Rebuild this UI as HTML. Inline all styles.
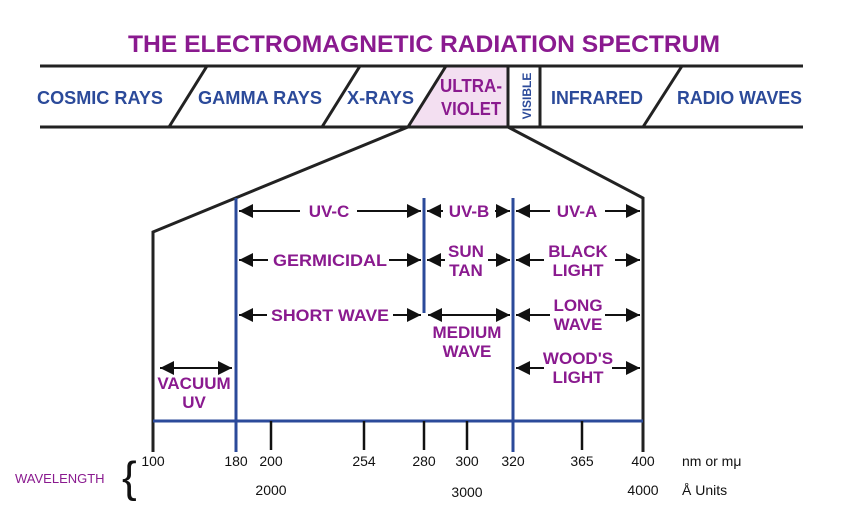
<!DOCTYPE html><html><head><style>body{margin:0;background:#fff}svg{display:block}</style></head><body>
<svg width="854" height="517" xmlns="http://www.w3.org/2000/svg" font-family="Liberation Sans, sans-serif" font-weight="bold">
<defs><marker id="a" viewBox="0 0 10 10" refX="10" refY="5" markerWidth="7" markerHeight="7" orient="auto-start-reverse"><path d="M0,0L10,5L0,10z" fill="#111"/></marker></defs>
<text x="128" y="52" textLength="592" lengthAdjust="spacingAndGlyphs" font-size="24" fill="#8a1a8f">THE ELECTROMAGNETIC RADIATION SPECTRUM</text>
<polygon points="446,66 508,66 508,127 408,127" fill="#f3dff1"/>
<g stroke="#222" stroke-width="3" fill="none">
<line x1="40" y1="66" x2="803" y2="66"/><line x1="40" y1="127" x2="803" y2="127"/>
<line x1="207" y1="66" x2="169" y2="127"/><line x1="360" y1="66" x2="322" y2="127"/>
<line x1="446" y1="66" x2="408" y2="127"/><line x1="508" y1="66" x2="508" y2="127"/>
<line x1="540" y1="66" x2="540" y2="127"/><line x1="682" y1="66" x2="643" y2="127"/>
<polyline points="408,127 153,232 153,452"/><polyline points="508,127 643,198 643,452"/>
</g>
<g font-size="18" fill="#2b4a9a">
<text x="37" y="104" textLength="126" lengthAdjust="spacingAndGlyphs">COSMIC RAYS</text>
<text x="198" y="104" textLength="124" lengthAdjust="spacingAndGlyphs">GAMMA RAYS</text>
<text x="347" y="104" textLength="67" lengthAdjust="spacingAndGlyphs">X-RAYS</text>
<text x="551" y="104" textLength="92" lengthAdjust="spacingAndGlyphs">INFRARED</text>
<text x="677" y="104" textLength="125" lengthAdjust="spacingAndGlyphs">RADIO WAVES</text>
<text transform="translate(531,96) rotate(-90)" text-anchor="middle" font-size="12">VISIBLE</text>
</g>
<g font-size="18" fill="#8a1a8f">
<text x="440" y="92" textLength="62" lengthAdjust="spacingAndGlyphs">ULTRA-</text>
<text x="441" y="115" textLength="60" lengthAdjust="spacingAndGlyphs">VIOLET</text></g>
<g stroke="#2b4a9a" stroke-width="3">
<line x1="236" y1="198" x2="236" y2="452"/><line x1="424" y1="198" x2="424" y2="313"/>
<line x1="513" y1="198" x2="513" y2="452"/><line x1="153" y1="421" x2="643" y2="421"/></g>
<g stroke="#111" stroke-width="2.5">
<line x1="271" y1="421" x2="271" y2="450"/><line x1="364" y1="421" x2="364" y2="450"/>
<line x1="424" y1="421" x2="424" y2="450"/><line x1="467" y1="421" x2="467" y2="450"/>
<line x1="582" y1="421" x2="582" y2="450"/></g>
<g stroke="#111" stroke-width="2" marker-end="url(#a)" marker-start="url(#a)">
<line x1="160" y1="368" x2="232" y2="368"/><line x1="428" y1="315" x2="510" y2="315"/></g>
<g stroke="#111" stroke-width="2" marker-end="url(#a)">
<line x1="300" y1="211" x2="239" y2="211"/><line x1="357" y1="211" x2="421" y2="211"/>
<line x1="443" y1="211" x2="427" y2="211"/><line x1="495" y1="211" x2="510" y2="211"/>
<line x1="550" y1="211" x2="516" y2="211"/><line x1="605" y1="211" x2="640" y2="211"/>
<line x1="268" y1="260" x2="239" y2="260"/><line x1="389" y1="260" x2="421" y2="260"/>
<line x1="445" y1="260" x2="427" y2="260"/><line x1="488" y1="260" x2="510" y2="260"/>
<line x1="544" y1="260" x2="516" y2="260"/><line x1="615" y1="260" x2="640" y2="260"/>
<line x1="267" y1="315" x2="239" y2="315"/><line x1="393" y1="315" x2="421" y2="315"/>
<line x1="550" y1="315" x2="516" y2="315"/><line x1="605" y1="315" x2="640" y2="315"/>
<line x1="544" y1="368" x2="516" y2="368"/><line x1="612" y1="368" x2="640" y2="368"/>
</g>
<g font-size="17" fill="#8a1a8f" text-anchor="middle">
<text x="329" y="217">UV-C</text><text x="469" y="217">UV-B</text><text x="577" y="217">UV-A</text>
<text x="330" y="266" textLength="114" lengthAdjust="spacingAndGlyphs">GERMICIDAL</text><text x="466" y="257">SUN</text><text x="466" y="276">TAN</text>
<text x="578" y="257">BLACK</text><text x="578" y="276">LIGHT</text>
<text x="330" y="321" textLength="118" lengthAdjust="spacingAndGlyphs">SHORT WAVE</text><text x="467" y="338">MEDIUM</text><text x="467" y="357">WAVE</text>
<text x="578" y="311">LONG</text><text x="578" y="330">WAVE</text>
<text x="578" y="364">WOOD'S</text><text x="578" y="383">LIGHT</text>
<text x="194" y="389">VACUUM</text><text x="194" y="408">UV</text></g>
<g font-size="14" font-weight="normal" fill="#111" text-anchor="middle">
<text x="153" y="466">100</text><text x="236" y="466">180</text><text x="271" y="466">200</text>
<text x="364" y="466">254</text><text x="424" y="466">280</text><text x="467" y="466">300</text>
<text x="513" y="466">320</text><text x="582" y="466">365</text><text x="643" y="466">400</text>
<text x="271" y="495">2000</text><text x="467" y="497">3000</text><text x="643" y="495">4000</text>
<text x="682" y="466" text-anchor="start">nm or mμ</text><text x="682" y="495" text-anchor="start">Å Units</text></g>
<text x="15" y="483" font-size="13" font-weight="normal" fill="#8a1a8f">WAVELENGTH</text>
<text x="122" y="492" font-size="44" font-weight="normal" fill="#111">{</text>
</svg></body></html>
